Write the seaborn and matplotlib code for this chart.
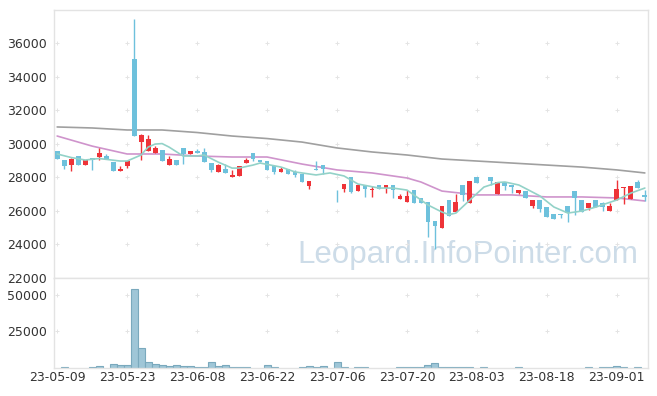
import numpy as np
import pandas as pd
import matplotlib
matplotlib.use("Agg")
import matplotlib.pyplot as plt
import seaborn as sns

sns.set_theme(style="white")
plt.rcParams['font.family'] = ['DejaVu Sans']

# ==============================================================================
# daily candles, 85 trading days starting 23-05-09 (day 39 shows no candle)
# ==============================================================================
nan = np.nan
opens = [29570, 29030, 28730, 29270, 28730, 29150, 29210, 29270, 28910, 28380,
         28670, 35050, 30100, 29570, 29450, 29630, 28730, 29030, 29750, 29390,
         29570, 29510, 28850, 28320, 28490, 28020, 28080, 28850, 29450, 29030,
         28970, 28670, 28320, 28490, 28320, 28200, 27480, 28490, 28730, nan,
         27030, 27300, 28020, 27180, 27540, 27240, 27540, 27360, 27540, 26710,
         26530, 27240, 26770, 26530, 25400, 24980, 26650, 25930, 27540, 26470,
         28020, 28020, 28020, 27000, 27720, 27540, 27060, 27180, 26290, 26650,
         26230, 25810, 25810, 26290, 27180, 26650, 26170, 26650, 26470, 25990,
         26650, 27360, 26710, 27720, 26950]
highs = [29570, 29030, 29150, 29270, 29030, 29150, 29750, 29390, 28910, 28670,
         28970, 37430, 30580, 30520, 29860, 29630, 29270, 29030, 29750, 29570,
         29690, 29750, 28850, 28790, 28790, 28440, 28670, 29150, 29450, 29030,
         28970, 28670, 28610, 28490, 28440, 28200, 27780, 28970, 28730, nan,
         27240, 27600, 28020, 27540, 27540, 27480, 27540, 27540, 27540, 27000,
         27240, 27240, 26770, 26530, 25400, 26290, 26650, 27000, 27540, 27780,
         28020, 28020, 28020, 27720, 27720, 27540, 27240, 27180, 26650, 26650,
         26230, 25810, 25810, 26290, 27180, 26650, 26470, 26650, 26530, 26470,
         27840, 27420, 27480, 27840, 27240]
lows = [29090, 28490, 28380, 28730, 28730, 28440, 29030, 29090, 28380, 28380,
        28550, 30460, 29030, 29570, 29450, 28970, 28730, 28730, 28790, 29390,
        29450, 28910, 28320, 28320, 28260, 28020, 28080, 28850, 28970, 28910,
        28440, 28200, 28320, 28200, 28020, 27720, 27300, 28440, 28200, nan,
        26530, 27120, 27060, 27180, 26830, 26830, 27300, 27060, 26770, 26710,
        26530, 26470, 26470, 24440, 23750, 24980, 25690, 25930, 26590, 26470,
        27660, 27990, 27540, 27000, 27240, 27060, 27000, 26770, 26170, 25930,
        25630, 25520, 25580, 25340, 25750, 25930, 26050, 26230, 25990, 25990,
        26650, 26410, 26710, 27360, 26590]
closes = [29090, 28670, 29090, 28730, 29030, 29030, 29450, 29090, 28380, 28490,
          28970, 30460, 30520, 30280, 29750, 28970, 29090, 28730, 29390, 29570,
          29450, 28910, 28440, 28730, 28260, 28140, 28670, 29030, 29090, 28910,
          28440, 28320, 28490, 28200, 28140, 27720, 27780, 28440, 28490, nan,
          26980, 27600, 27120, 27540, 27300, 27300, 27300, 27540, 27240, 26890,
          26890, 26470, 26470, 25340, 25100, 26290, 25690, 26530, 26950, 27780,
          27660, 27990, 27780, 27720, 27480, 27420, 27240, 26770, 26650, 26110,
          25630, 25520, 25750, 25870, 26770, 25930, 26470, 26230, 26230, 26290,
          27300, 27420, 27480, 27360, 26830]
volumes = [0, 1000, 0, 0, 0, 800, 1300, 0, 2700, 2000,
           2000, 54300, 13400, 4000, 2700, 2000, 1300, 2000, 1300, 1300,
           700, 700, 4000, 1300, 2000, 700, 700, 700, 0, 0,
           2000, 700, 0, 0, 0, 700, 1300, 700, 1300, 0,
           4000, 700, 0, 700, 700, 0, 0, 0, 0, 700,
           700, 700, 700, 2000, 3400, 700, 700, 700, 700, 700,
           0, 700, 0, 0, 0, 0, 700, 0, 0, 0,
           0, 0, 0, 0, 0, 0, 700, 0, 700, 700,
           1300, 700, 0, 700, 0]

# moving average lines
ma5_days = [0, 2, 4, 6, 9, 10, 12, 13, 14, 15, 16, 18, 20, 21, 23, 25, 26, 28, 29,
            32, 34, 37, 39, 41, 43, 46, 48, 50, 52, 53, 55, 56, 57, 59, 61, 63,
            64, 66, 69, 71, 73, 75, 77, 80, 82, 84]
ma5_values = [29390, 29180, 29030, 29120, 28970, 28970, 29330, 29800, 29980, 30010,
              29800, 29270, 29270, 29330, 28910, 28550, 28550, 28730, 28850,
              28610, 28320, 28140, 28260, 28080, 27600, 27360, 27360, 27240, 26650,
              26350, 25930, 25780, 25870, 26650, 27420, 27690,
              27720, 27540, 26890, 26230, 25870, 25990, 26230, 26650, 27060, 27360]
ma20_days = [0, 5, 10, 15, 20, 25, 30, 35, 40, 45, 50, 52, 55, 60, 65, 70, 75, 80, 84]
ma20_values = [30460, 29860, 29390, 29390, 29270, 29210, 29210, 28790, 28440, 28260,
               27960, 27720, 27180, 26950, 26950, 26830, 26830, 26770, 26590]
ma60_days = [0, 5, 10, 15, 20, 25, 30, 35, 40, 45, 50, 55, 60, 65, 70, 75, 80, 84]
ma60_values = [31000, 30940, 30820, 30820, 30670, 30460, 30310, 30100, 29750, 29510,
               29330, 29090, 28970, 28850, 28730, 28610, 28440, 28260]

tick_days = [0, 10, 20, 30, 40, 50, 60, 70, 80]
tick_labels = ['23-05-09', '23-05-23', '23-06-08', '23-06-22', '23-07-06',
               '23-07-20', '23-08-03', '23-08-18', '23-09-01']
price_ticks = [22000, 24000, 26000, 28000, 30000, 32000, 34000, 36000]
volume_ticks = [25000, 50000]

RED = '#ee3338'
BLUE = '#6ec1dc'
FRAME = '#e3e3e3'
TXT = '#333333'

fig = plt.figure(figsize=(6.57, 3.96), dpi=100)
ax = fig.add_axes([54 / 657, 1 - 278 / 396, 594 / 657, 268 / 396])
axv = fig.add_axes([54 / 657, 1 - 368 / 396, 594 / 657, 90 / 396], sharex=ax)

# watermark
ax.text(0.696, 0.056, 'Leopard.InfoPointer.com', transform=ax.transAxes,
        ha='center', va='baseline', fontsize=22.5, color='#cddce8',
        family='Liberation Sans', zorder=0)

# grid drawn as small crosses
gx, gy = np.meshgrid(tick_days, price_ticks[1:])
ax.plot(gx.ravel(), gy.ravel(), ls='none', marker='+', ms=3, mew=0.7,
        color='#e4e4e4', zorder=0)
gx, gy = np.meshgrid(tick_days, volume_ticks)
axv.plot(gx.ravel(), gy.ravel(), ls='none', marker='+', ms=3, mew=0.7,
         color='#e4e4e4', zorder=0)

# candles
days = np.arange(len(opens))
o = np.array(opens, dtype=float)
c = np.array(closes, dtype=float)
h = np.array(highs, dtype=float)
l = np.array(lows, dtype=float)
ok = ~np.isnan(o)
colors = np.where(c >= o, RED, BLUE)
ax.vlines(days[ok], l[ok], h[ok], colors=colors[ok], lw=1.0, zorder=2)
body = np.maximum(np.abs(c - o), 50)
ax.bar(days[ok], body[ok], bottom=np.minimum(o, c)[ok], width=0.7,
       color=colors[ok], linewidth=0, zorder=3)

# moving averages
sns.lineplot(x=ma60_days, y=ma60_values, color='#a0a0a0', lw=1.2, ax=ax, zorder=1)
sns.lineplot(x=ma20_days, y=ma20_values, color='#cf94cc', lw=1.2, ax=ax, zorder=1)
sns.lineplot(x=ma5_days, y=ma5_values, color='#93d2c8', lw=1.2, ax=ax, zorder=4)

# volume (days with no visible bar left out)
vol_df = pd.DataFrame({'day': days, 'volume': volumes})
vol_df = vol_df[vol_df['volume'] > 0]
sns.barplot(data=vol_df, x='day', y='volume', native_scale=True, width=1.0,
            color='#9fc6d7', saturation=1, edgecolor='#7aa9bd', linewidth=0.8,
            errorbar=None, ax=axv)

for a in (ax, axv):
    for s in a.spines.values():
        s.set_color(FRAME)
        s.set_linewidth(1)
    a.tick_params(length=0, labelsize=9, colors=TXT)
    a.set_xlabel('')
    a.set_ylabel('')

ax.set_xlim(-0.45, 84.45)
ax.set_ylim(22000, 37970)
ax.set_yticks(price_ticks)
ax.set_yticklabels([str(t) for t in price_ticks])
ax.tick_params(axis='x', labelbottom=False)
ax.tick_params(axis='y', pad=5)

axv.set_ylim(0, 61500)
axv.set_yticks(volume_ticks)
axv.set_yticklabels([str(t) for t in volume_ticks])
axv.set_xticks(tick_days)
axv.set_xticklabels(tick_labels)
axv.tick_params(axis='y', pad=5)
axv.tick_params(axis='x', pad=2)
axv.set_xlim(-0.45, 84.45)

fig.savefig('out.png', dpi=100, facecolor='white')
